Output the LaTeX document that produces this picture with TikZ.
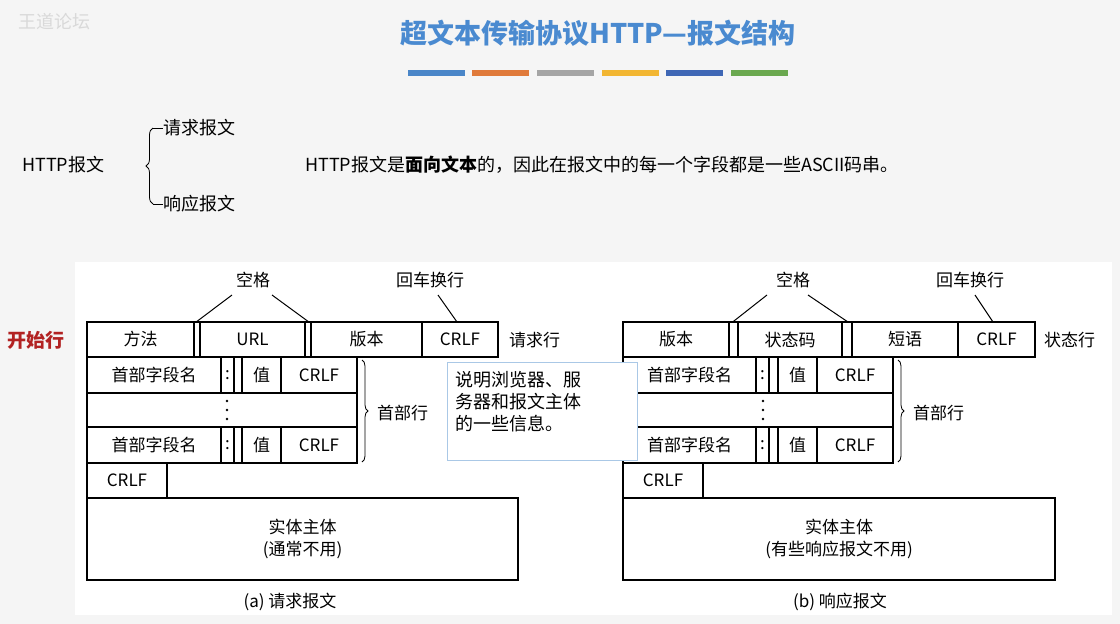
\documentclass[tikz,border=0pt]{standalone}
\usepackage{fontspec}
\setmainfont{Liberation Serif}
\newfontfamily\cjk{Noto Sans CJK SC}
\usetikzlibrary{decorations.pathreplacing}
\definecolor{ttl}{HTML}{4A8AD0}
\tikzset{
  cell/.style={draw,line width=1.3pt,inner sep=0pt,font=\cjk\fontsize{17}{17}\selectfont},
  lbl/.style={font=\cjk\fontsize{17}{17}\selectfont,inner sep=1pt},
  tx/.style={font=\cjk\fontsize{18}{18}\selectfont,inner sep=0pt},
  ptr/.style={line width=1pt},
  dotc/.style={fill=black},
}
\newcommand\cellbox[6]{\node[cell,minimum width={#4pt-#2pt},minimum height={#5pt-#3pt}] (#1) at ({(#2+#4)/2},{(#3+#5)/2}) {#6};}
\begin{document}
\begin{tikzpicture}[x=1pt,y=-1pt]
\useasboundingbox (0,0) rectangle (1120,624);
\fill[black!4] (0,0) rectangle (1120,624);
\fill[white] (75,262) rectangle (1112,615);
\node[font=\cjk\fontsize{18}{18}\selectfont,text=white!85!black] (wm) at (55,22) {王道论坛};
\node[font=\cjk\bfseries\fontsize{27}{27}\selectfont,text=ttl] (title) at (598,33) {超文本传输协议HTTP—报文结构};
\definecolor{b1}{HTML}{4A86C8}\definecolor{b2}{HTML}{E07A3A}\definecolor{b3}{HTML}{A5A5A5}
\definecolor{b4}{HTML}{F2B632}\definecolor{b5}{HTML}{3F67B5}\definecolor{b6}{HTML}{6AA84F}
\foreach \x/\c in {408/b1,472/b2,537/b3,602/b4,666/b5,731/b6}
  \fill[\c] (\x,70) rectangle (\x+57,76);
% intro
\node[tx,anchor=west] (hm) at (22,165) {HTTP报文};
\node[tx,anchor=west] (rq) at (163,128) {请求报文};
\node[tx,anchor=west] (rs) at (163,204) {响应报文};
\draw[line width=0.8pt,decorate,decoration={brace,amplitude=7pt}] (153,204) -- (153,128);
\draw[line width=0.8pt] (153,128) -- (rq.west);
\draw[line width=0.8pt] (153,204) -- (rs.west);
\node[tx,anchor=west] (note) at (305,165) {HTTP报文是\textbf{面向文本}的，因此在报文中的每一个字段都是一些ASCII码串。};
\node[font=\cjk\bfseries\fontsize{19}{19}\selectfont,text={rgb,255:red,178;green,34;blue,34}] (start) at (36,340) {开始行};
% ---------- request ----------
\cellbox{m}{87}{322}{194}{357}{方法}
\cellbox{s1}{194}{322}{200}{357}{}
\cellbox{u}{200}{322}{305}{357}{URL}
\cellbox{s2}{305}{322}{311}{357}{}
\cellbox{v}{311}{322}{422}{357}{版本}
\cellbox{c1}{422}{322}{498}{357}{CRLF}
\node[lbl,anchor=west] (rql) at (508,340) {请求行};
\node[lbl] (sp1) at (253,280) {空格};
\node[lbl] (cr1) at (430,280) {回车换行};
\draw[ptr] (232,295) -- (s1.north); \draw[ptr] (272,295) -- (s2.north);
\draw[ptr] (438,295) -- (457,322);
\foreach \r/\ya/\yb in {a/357/393,b/427/463}{
  \cellbox{hn\r}{87}{\ya}{221}{\yb}{首部字段名}
  \cellbox{hc\r}{221}{\ya}{234}{\yb}{:}
  \cellbox{hs\r}{234}{\ya}{242}{\yb}{}
  \cellbox{hv\r}{242}{\ya}{281}{\yb}{值}
  \cellbox{hf\r}{281}{\ya}{357}{\yb}{CRLF}
}
\cellbox{hd}{87}{393}{357}{427}{}
\foreach \y in {401,410,419} \fill[dotc] (227,\y) circle (1.4);
\draw[line width=0.8pt,decorate,decoration={brace,amplitude=6pt}] (362,360) -- (362,462);
\node[lbl,anchor=west] (hl1) at (376,413) {首部行};
\cellbox{ce1}{87}{463}{167}{498}{CRLF}
\node[cell,minimum width=431pt,minimum height=82pt,align=center,font=\cjk\fontsize{17}{22}\selectfont] (body1) at (302.5,539) {实体主体\\(通常不用)};
\node[lbl] (cap1) at (290,602) {(a) 请求报文};
% ---------- response ----------
\cellbox{v2}{623}{322}{729}{357}{版本}
\cellbox{t1}{729}{322}{738}{357}{}
\cellbox{sc}{738}{322}{842}{357}{状态码}
\cellbox{t2}{842}{322}{852}{357}{}
\cellbox{ph}{852}{322}{958}{357}{短语}
\cellbox{c2}{958}{322}{1035}{357}{CRLF}
\node[lbl,anchor=west] (stl) at (1043,340) {状态行};
\node[lbl] (sp2) at (793,280) {空格};
\node[lbl] (cr2) at (970,280) {回车换行};
\draw[ptr] (767,295) -- (t1.north); \draw[ptr] (808,295) -- (t2.north);
\draw[ptr] (975,295) -- (993,322);
\foreach \r/\ya/\yb in {a/357/393,b/427/463}{
  \cellbox{gn\r}{623}{\ya}{756}{\yb}{首部字段名}
  \cellbox{gc\r}{756}{\ya}{769}{\yb}{:}
  \cellbox{gs\r}{769}{\ya}{778}{\yb}{}
  \cellbox{gv\r}{778}{\ya}{817}{\yb}{值}
  \cellbox{gf\r}{817}{\ya}{893}{\yb}{CRLF}
}
\cellbox{gd}{623}{393}{893}{427}{}
\foreach \y in {401,410,419} \fill[dotc] (763,\y) circle (1.4);
\draw[line width=0.8pt,decorate,decoration={brace,amplitude=6pt}] (898,360) -- (898,462);
\node[lbl,anchor=west] (hl2) at (912,413) {首部行};
\cellbox{ce2}{623}{463}{703}{498}{CRLF}
\node[cell,minimum width=432pt,minimum height=82pt,align=center,font=\cjk\fontsize{17}{22}\selectfont] (body2) at (839,539) {实体主体\\(有些响应报文不用)};
\node[lbl] (cap2) at (840,602) {(b) 响应报文};
% callout
\node[draw={rgb,255:red,170;green,200;blue,230},line width=1pt,fill=white,minimum width=190pt,minimum height=98pt,anchor=north west,inner sep=0pt] (call) at (447,362) {};
\node[font=\cjk\fontsize{18}{22}\selectfont,align=left,anchor=north west] (calltxt) at (452,368) {说明浏览器、服\\务器和报文主体\\的一些信息。};
\end{tikzpicture}
\end{document}
